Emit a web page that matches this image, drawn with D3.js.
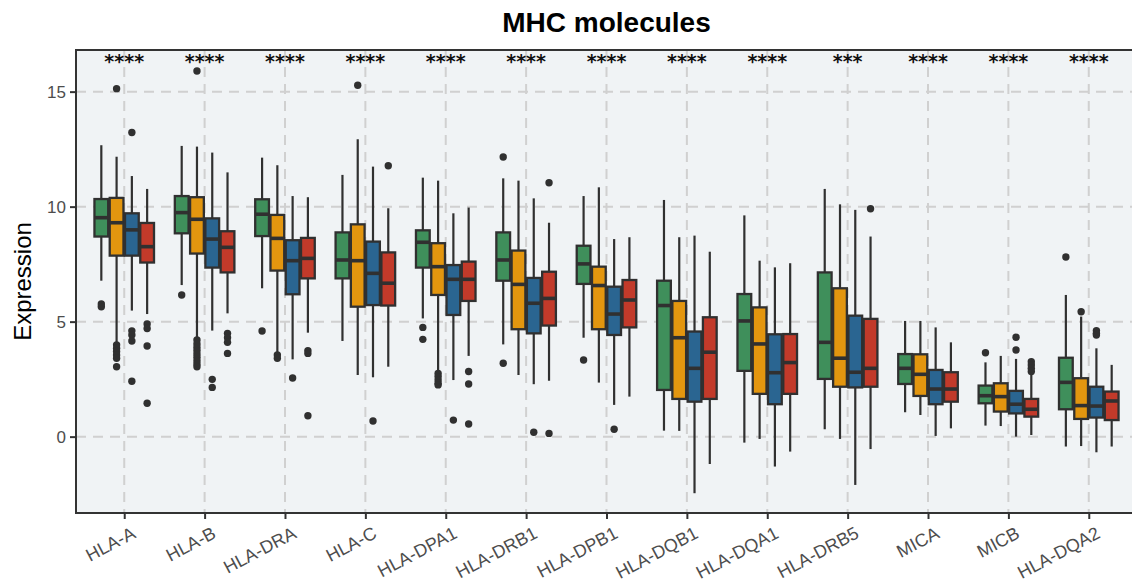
<!DOCTYPE html>
<html><head><meta charset="utf-8">
<script src="https://cdn.jsdelivr.net/npm/d3@7"></script>
<style>body{margin:0;background:#fff}svg{display:block}</style>
</head><body><svg id="c" width="1132" height="586"></svg>
<script>
const categories = ["HLA-A","HLA-B","HLA-DRA","HLA-C","HLA-DPA1","HLA-DRB1","HLA-DPB1","HLA-DQB1","HLA-DQA1","HLA-DRB5","MICA","MICB","HLA-DQA2"];
const groups = ["C1","C2","C3","C4"];
const groupColors = ["#3F8F5B","#E3960F","#2A6591","#C23A2A"];
const yTicks = [0,5,10,15];
const signif = ["****","****","****","****","****","****","****","****","****","***","****","****","****"];

const c1Low = [6.78,6.59,6.45,4.16,5.14,4.01,4.30,0.26,-0.26,0.32,1.06,0.48,-0.43];
const c1Q1  = [8.70,8.84,8.72,6.88,7.35,6.78,6.64,2.03,2.86,2.51,2.29,1.45,1.19];
const c1Med = [9.52,9.74,9.67,7.68,8.45,7.68,7.51,5.70,5.03,4.10,2.97,1.78,2.36];
const c1Q3  = [10.33,10.46,10.32,8.88,8.97,8.88,8.30,6.78,6.20,7.14,3.59,2.22,3.43];
const c1High= [12.67,12.64,12.13,11.38,11.26,11.23,10.46,10.29,9.62,10.77,5.03,3.23,6.16];
const c1Out = [[5.77,5.65],[6.16],[4.59],[],[4.75,4.23],[12.16,3.19],[3.33],[],[],[],[],[3.65],[7.81]];

const c2Low = [4.06,4.28,3.62,2.68,2.83,2.68,2.35,0.25,-0.10,-0.10,0.94,0.46,-0.41];
const c2Q1  = [7.87,7.96,7.22,5.65,6.16,4.67,4.67,1.64,1.86,2.17,1.77,1.09,0.77];
const c2Med = [9.30,9.45,8.62,7.65,7.39,6.62,6.57,4.30,4.03,3.41,2.71,1.74,1.35];
const c2Q3  = [10.38,10.41,9.64,9.23,8.41,8.09,7.39,5.90,5.62,6.45,3.58,2.32,2.54];
const c2High= [12.17,12.61,11.80,12.93,11.13,11.13,10.84,8.67,7.65,10.10,5.03,3.51,5.22];
const c2Out = [[15.13,3.99,3.84,3.70,3.55,3.41,3.04],[15.9,4.20,4.03,3.88,3.74,3.59,3.45,3.30,3.16,3.04],[3.55,3.41],[15.28],[2.75,2.61,2.46,2.32,2.25],[],[],[],[],[],[],[],[5.43]];

const c3Low = [5.48,4.61,3.36,2.58,2.46,2.28,1.38,-2.46,-1.30,-2.10,0.03,0.00,-0.68];
const c3Q1  = [7.87,7.35,6.19,5.72,5.29,4.49,4.42,1.52,1.41,2.14,1.41,1.01,0.83];
const c3Med = [8.99,8.59,7.65,7.10,6.84,5.80,5.33,2.97,2.78,2.80,2.07,1.41,1.33];
const c3Q3  = [9.71,9.49,8.54,8.48,7.46,6.90,6.52,4.57,4.45,5.26,2.90,1.99,2.17];
const c3High= [11.33,12.35,10.46,11.74,9.71,10.36,8.59,8.74,7.36,9.86,4.75,3.38,3.84];
const c3Out = [[13.22,4.60,4.42,4.16,2.41],[2.49,2.14],[2.55],[0.68],[0.72],[0.19],[0.32],[],[],[],[],[4.32,3.77],[4.61,4.49,4.42]];

const c4Low = [5.33,5.36,4.52,3.04,3.51,2.43,1.74,-1.19,-0.65,-0.54,0.36,0.07,-0.43];
const c4Q1  = [7.57,7.14,6.88,5.70,5.90,4.83,4.75,1.64,1.86,2.17,1.52,0.87,0.72];
const c4Med = [8.26,8.23,7.75,6.67,6.84,6.01,5.94,3.67,3.22,2.97,2.07,1.19,1.55];
const c4Q3  = [9.29,8.93,8.64,8.01,7.61,7.17,6.81,5.19,4.46,5.12,2.80,1.64,1.96];
const c4High= [10.77,11.49,10.41,9.93,9.96,9.30,8.67,8.04,7.54,8.70,4.10,2.70,3.12];
const c4Out = [[4.90,4.70,3.94,1.45],[4.49,4.30,4.10,3.62],[3.74,3.62,0.91],[11.78],[2.83,2.29,0.55],[11.04,0.14],[],[],[],[9.91],[],[3.26,3.12,2.97,2.83],[]];

const seriesStats = [
  [c1Low,c1Q1,c1Med,c1Q3,c1High,c1Out],
  [c2Low,c2Q1,c2Med,c2Q3,c2High,c2Out],
  [c3Low,c3Q1,c3Med,c3Q3,c3High,c3Out],
  [c4Low,c4Q1,c4Med,c4Q3,c4High,c4Out]
];

const svg = d3.select("#c");
const L = 76, T = 50, B = 513, R = 1137;
const FONT = "'Liberation Sans', Arial, Helvetica, sans-serif";

const x = d3.scalePoint().domain(categories).range([L, R]).padding(0.6);
const step = x.step();
const xg = d3.scaleBand().domain(groups).range([-step*0.38, step*0.38]).padding(0);
const bw = xg.bandwidth()*0.9;
const y = d3.scaleLinear().domain([-3.32, 16.81]).range([B, T]);

// panel background
svg.append("rect").attr("x",L).attr("y",T).attr("width",R-L).attr("height",B-T).attr("fill","#F0F3F5");

// grid
const grid = svg.append("g").attr("stroke","#D0D0D0").attr("stroke-width",2).attr("stroke-dasharray","10,7");
grid.selectAll("line.h").data(yTicks).join("line").attr("class","h")
  .attr("x1",L).attr("x2",R).attr("y1",d=>y(d)).attr("y2",d=>y(d));
grid.selectAll("line.v").data(categories).join("line").attr("class","v")
  .attr("x1",d=>x(d)).attr("x2",d=>x(d)).attr("y1",T).attr("y2",B);

// boxes
const stroke = "#303030";
seriesStats.forEach((st, gi) => {
  const [lo,q1,med,q3,hi,out] = st;
  const g = svg.append("g");
  categories.forEach((cat, i) => {
    const cx = x(cat) + xg(groups[gi]) + xg.bandwidth()/2;
    g.append("line").attr("x1",cx).attr("x2",cx).attr("y1",y(hi[i])).attr("y2",y(q3[i])).attr("stroke",stroke).attr("stroke-width",2.2);
    g.append("line").attr("x1",cx).attr("x2",cx).attr("y1",y(q1[i])).attr("y2",y(lo[i])).attr("stroke",stroke).attr("stroke-width",2.2);
    g.append("rect").attr("x",cx-bw/2).attr("width",bw).attr("y",y(q3[i])).attr("height",y(q1[i])-y(q3[i]))
      .attr("fill",groupColors[gi]).attr("stroke",stroke).attr("stroke-width",2.3);
    g.append("line").attr("x1",cx-bw/2).attr("x2",cx+bw/2).attr("y1",y(med[i])).attr("y2",y(med[i])).attr("stroke",stroke).attr("stroke-width",3.6);
    g.selectAll(null).data(out[i]).join("circle").attr("cx",cx).attr("cy",d=>y(d)).attr("r",3.7).attr("fill",stroke);
  });
});

// significance labels
svg.append("g").selectAll("text").data(categories).join("text")
  .attr("x",d=>x(d)).attr("y",68).attr("text-anchor","middle")
  .attr("font-family","'DejaVu Sans', sans-serif").attr("font-weight","bold").attr("font-size",19).attr("fill","#111")
  .text((d,i)=>signif[i]);

// panel border (left, top, bottom)
svg.append("path").attr("d",`M${R+2},${T}H${L}V${B}H${R+2}`).attr("fill","none").attr("stroke","#333").attr("stroke-width",2);

// y axis
const ya = svg.append("g").attr("transform",`translate(${L},0)`)
  .call(d3.axisLeft(y).tickValues(yTicks).tickSize(6).tickPadding(4));
ya.select(".domain").remove();
ya.selectAll(".tick line").attr("stroke","#333").attr("stroke-width",2);
ya.selectAll(".tick text").attr("font-family",FONT).attr("font-size",17).attr("fill","#4D4D4D");

// x axis
const xa = svg.append("g").attr("transform",`translate(0,${B})`)
  .call(d3.axisBottom(x).tickSize(6));
xa.select(".domain").remove();
xa.selectAll(".tick line").attr("stroke","#333").attr("stroke-width",2);
xa.selectAll(".tick text").attr("font-family",FONT).attr("font-size",18).attr("fill","#4D4D4D")
  .attr("text-anchor","end").attr("y",0).attr("dy",0)
  .attr("transform","translate(12,24) rotate(-28)");

// title
svg.append("text").attr("x",(L+R)/2).attr("y",32).attr("text-anchor","middle")
  .attr("font-family",FONT).attr("font-weight","bold").attr("font-size",28).attr("fill","#000").text("MHC molecules");

// y label
svg.append("text").attr("transform",`translate(31,${(T+B)/2}) rotate(-90)`).attr("text-anchor","middle")
  .attr("font-family",FONT).attr("font-size",24).attr("fill","#000").text("Expression");
</script></body></html>
